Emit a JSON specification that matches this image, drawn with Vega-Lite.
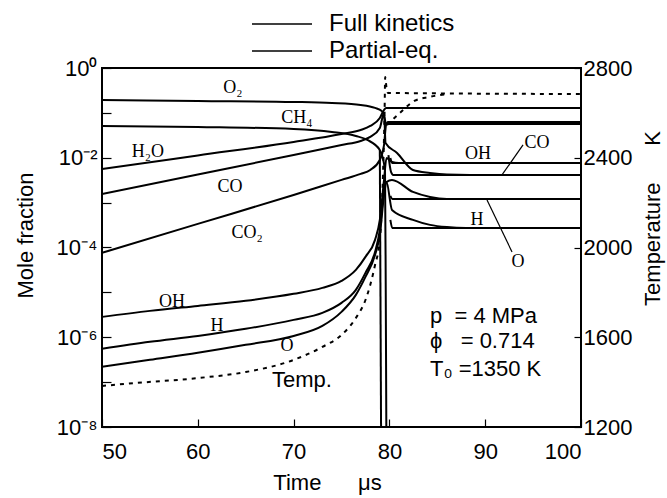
{
  "$schema": "https://vega.github.io/schema/vega-lite/v6.json",
  "width": 479,
  "height": 359,
  "autosize": "none",
  "padding": {"left": 102, "top": 68, "right": 86, "bottom": 71},
  "background": "white",
  "config": {
    "view": {"stroke": "black", "strokeWidth": 2},
    "axis": {"grid": false, "domain": false, "labelFont": "Liberation Sans", "labelFontSize": 22, "labelColor": "black", "titleFont": "Liberation Sans", "titleFontSize": 22, "titleFontWeight": "normal", "titleColor": "black", "tickColor": "black", "tickWidth": 1.2}
  },
  "datasets": {
    "species": [
      {"s": "O2", "m": "Full kinetics", "t": 50, "v": 0.194},
      {"s": "O2", "m": "Full kinetics", "t": 60, "v": 0.184},
      {"s": "O2", "m": "Full kinetics", "t": 70, "v": 0.175},
      {"s": "O2", "m": "Full kinetics", "t": 74, "v": 0.166},
      {"s": "O2", "m": "Full kinetics", "t": 77, "v": 0.15},
      {"s": "O2", "m": "Full kinetics", "t": 78.5, "v": 0.129},
      {"s": "O2", "m": "Full kinetics", "t": 79.2, "v": 0.11},
      {"s": "O2", "m": "Full kinetics", "t": 79.44, "v": 0.0898},
      {"s": "O2", "m": "Full kinetics", "t": 79.65, "v": 0.0566},
      {"s": "O2", "m": "Full kinetics", "t": 100, "v": 0.0566},
      {"s": "CH4", "m": "Full kinetics", "t": 50, "v": 0.0511},
      {"s": "CH4", "m": "Full kinetics", "t": 60, "v": 0.0485},
      {"s": "CH4", "m": "Full kinetics", "t": 70, "v": 0.0438},
      {"s": "CH4", "m": "Full kinetics", "t": 74, "v": 0.0376},
      {"s": "CH4", "m": "Full kinetics", "t": 76.5, "v": 0.0306},
      {"s": "CH4", "m": "Full kinetics", "t": 77.7, "v": 0.0249},
      {"s": "CH4", "m": "Full kinetics", "t": 79.0, "v": 0.0149},
      {"s": "CH4", "m": "Full kinetics", "t": 79.54, "v": 0.00535},
      {"s": "CH4", "m": "Full kinetics", "t": 79.62, "v": 0.00001},
      {"s": "CH4", "m": "Full kinetics", "t": 79.7, "v": 1e-9},
      {"s": "CH4pe", "m": "Partial-eq.", "t": 79.0, "v": 0.0149},
      {"s": "CH4pe", "m": "Partial-eq.", "t": 79.15, "v": 1e-9},
      {"s": "H2O", "m": "Full kinetics", "t": 50, "v": 0.00563},
      {"s": "H2O", "m": "Full kinetics", "t": 60, "v": 0.01125},
      {"s": "H2O", "m": "Full kinetics", "t": 70, "v": 0.0225},
      {"s": "H2O", "m": "Full kinetics", "t": 75, "v": 0.0339},
      {"s": "H2O", "m": "Full kinetics", "t": 77, "v": 0.0416},
      {"s": "H2O", "m": "Full kinetics", "t": 78, "v": 0.0511},
      {"s": "H2O", "m": "Full kinetics", "t": 79, "v": 0.0769},
      {"s": "H2O", "m": "Full kinetics", "t": 79.44, "v": 0.116},
      {"s": "H2O", "m": "Full kinetics", "t": 79.65, "v": 0.129},
      {"s": "H2O", "m": "Full kinetics", "t": 100, "v": 0.129},
      {"s": "CO", "m": "Full kinetics", "t": 50, "v": 0.00156},
      {"s": "CO", "m": "Full kinetics", "t": 60, "v": 0.00423},
      {"s": "CO", "m": "Full kinetics", "t": 70, "v": 0.0115},
      {"s": "CO", "m": "Full kinetics", "t": 75, "v": 0.0193},
      {"s": "CO", "m": "Full kinetics", "t": 77, "v": 0.0237},
      {"s": "CO", "m": "Full kinetics", "t": 78, "v": 0.0291},
      {"s": "CO", "m": "Full kinetics", "t": 79, "v": 0.0461},
      {"s": "CO", "m": "Full kinetics", "t": 79.44, "v": 0.0995},
      {"s": "CO", "m": "Full kinetics", "t": 79.6, "v": 0.0214},
      {"s": "CO", "m": "Full kinetics", "t": 80.8, "v": 0.0128},
      {"s": "CO", "m": "Full kinetics", "t": 82.46, "v": 0.00535},
      {"s": "CO", "m": "Full kinetics", "t": 84.24, "v": 0.00459},
      {"s": "CO", "m": "Full kinetics", "t": 86, "v": 0.00423},
      {"s": "CO", "m": "Full kinetics", "t": 88.4, "v": 0.00414},
      {"s": "CO", "m": "Full kinetics", "t": 100, "v": 0.00414},
      {"s": "COpe", "m": "Partial-eq.", "t": 79.9, "v": 0.0115},
      {"s": "COpe", "m": "Partial-eq.", "t": 80.17, "v": 0.00483},
      {"s": "COpe", "m": "Partial-eq.", "t": 80.4, "v": 0.00414},
      {"s": "COpe", "m": "Partial-eq.", "t": 100, "v": 0.00414},
      {"s": "CO2", "m": "Full kinetics", "t": 50, "v": 0.0000758},
      {"s": "CO2", "m": "Full kinetics", "t": 60, "v": 0.000336},
      {"s": "CO2", "m": "Full kinetics", "t": 70, "v": 0.00148},
      {"s": "CO2", "m": "Full kinetics", "t": 75, "v": 0.00321},
      {"s": "CO2", "m": "Full kinetics", "t": 77, "v": 0.00436},
      {"s": "CO2", "m": "Full kinetics", "t": 78, "v": 0.00535},
      {"s": "CO2", "m": "Full kinetics", "t": 79, "v": 0.00893},
      {"s": "CO2", "m": "Full kinetics", "t": 79.44, "v": 0.0193},
      {"s": "CO2", "m": "Full kinetics", "t": 79.65, "v": 0.0538},
      {"s": "CO2", "m": "Full kinetics", "t": 79.85, "v": 0.0627},
      {"s": "CO2", "m": "Full kinetics", "t": 100, "v": 0.0627},
      {"s": "OH", "m": "Full kinetics", "t": 50, "v": 0.00000284},
      {"s": "OH", "m": "Full kinetics", "t": 55, "v": 0.00000387},
      {"s": "OH", "m": "Full kinetics", "t": 60, "v": 0.000005},
      {"s": "OH", "m": "Full kinetics", "t": 65, "v": 0.00000647},
      {"s": "OH", "m": "Full kinetics", "t": 70, "v": 0.00000927},
      {"s": "OH", "m": "Full kinetics", "t": 73, "v": 0.0000126},
      {"s": "OH", "m": "Full kinetics", "t": 75, "v": 0.000018},
      {"s": "OH", "m": "Full kinetics", "t": 76.5, "v": 0.0000317},
      {"s": "OH", "m": "Full kinetics", "t": 77.5, "v": 0.0000618},
      {"s": "OH", "m": "Full kinetics", "t": 78.5, "v": 0.000148},
      {"s": "OH", "m": "Full kinetics", "t": 79, "v": 0.000412},
      {"s": "OH", "m": "Full kinetics", "t": 79.44, "v": 0.00321},
      {"s": "OH", "m": "Full kinetics", "t": 79.7, "v": 0.0099},
      {"s": "OH", "m": "Full kinetics", "t": 80.27, "v": 0.00806},
      {"s": "OH", "m": "Full kinetics", "t": 81, "v": 0.00766},
      {"s": "OH", "m": "Full kinetics", "t": 100, "v": 0.00766},
      {"s": "OHpe", "m": "Partial-eq.", "t": 80.1, "v": 0.0099},
      {"s": "OHpe", "m": "Partial-eq.", "t": 80.3, "v": 0.00766},
      {"s": "OHpe", "m": "Partial-eq.", "t": 100, "v": 0.00766},
      {"s": "H", "m": "Full kinetics", "t": 50, "v": 0.000000552},
      {"s": "H", "m": "Full kinetics", "t": 55, "v": 0.00000079},
      {"s": "H", "m": "Full kinetics", "t": 60, "v": 0.00000107},
      {"s": "H", "m": "Full kinetics", "t": 65, "v": 0.00000154},
      {"s": "H", "m": "Full kinetics", "t": 70, "v": 0.00000244},
      {"s": "H", "m": "Full kinetics", "t": 73, "v": 0.00000349},
      {"s": "H", "m": "Full kinetics", "t": 75, "v": 0.00000584},
      {"s": "H", "m": "Full kinetics", "t": 76.5, "v": 0.0000114},
      {"s": "H", "m": "Full kinetics", "t": 77.5, "v": 0.0000272},
      {"s": "H", "m": "Full kinetics", "t": 78.5, "v": 0.0000798},
      {"s": "H", "m": "Full kinetics", "t": 79, "v": 0.000247},
      {"s": "H", "m": "Full kinetics", "t": 79.44, "v": 0.00192},
      {"s": "H", "m": "Full kinetics", "t": 79.7, "v": 0.00289},
      {"s": "H", "m": "Full kinetics", "t": 80.27, "v": 0.000687},
      {"s": "H", "m": "Full kinetics", "t": 82.46, "v": 0.000412},
      {"s": "H", "m": "Full kinetics", "t": 84.24, "v": 0.000319},
      {"s": "H", "m": "Full kinetics", "t": 86, "v": 0.000285},
      {"s": "H", "m": "Full kinetics", "t": 88, "v": 0.000273},
      {"s": "H", "m": "Full kinetics", "t": 100, "v": 0.000273},
      {"s": "Hpe", "m": "Partial-eq.", "t": 80.1, "v": 0.000412},
      {"s": "Hpe", "m": "Partial-eq.", "t": 80.3, "v": 0.000273},
      {"s": "Hpe", "m": "Partial-eq.", "t": 100, "v": 0.000273},
      {"s": "O", "m": "Full kinetics", "t": 50, "v": 0.000000219},
      {"s": "O", "m": "Full kinetics", "t": 55, "v": 0.000000314},
      {"s": "O", "m": "Full kinetics", "t": 60, "v": 0.00000045},
      {"s": "O", "m": "Full kinetics", "t": 65, "v": 0.000000677},
      {"s": "O", "m": "Full kinetics", "t": 70, "v": 0.00000107},
      {"s": "O", "m": "Full kinetics", "t": 73, "v": 0.00000179},
      {"s": "O", "m": "Full kinetics", "t": 75, "v": 0.00000368},
      {"s": "O", "m": "Full kinetics", "t": 76.5, "v": 0.0000088},
      {"s": "O", "m": "Full kinetics", "t": 77.5, "v": 0.0000221},
      {"s": "O", "m": "Full kinetics", "t": 78.5, "v": 0.0000684},
      {"s": "O", "m": "Full kinetics", "t": 79, "v": 0.000191},
      {"s": "O", "m": "Full kinetics", "t": 79.44, "v": 0.00148},
      {"s": "O", "m": "Full kinetics", "t": 79.7, "v": 0.00289},
      {"s": "O", "m": "Full kinetics", "t": 80.27, "v": 0.00321},
      {"s": "O", "m": "Full kinetics", "t": 82.46, "v": 0.00173},
      {"s": "O", "m": "Full kinetics", "t": 84.24, "v": 0.00134},
      {"s": "O", "m": "Full kinetics", "t": 86, "v": 0.00121},
      {"s": "O", "m": "Full kinetics", "t": 100, "v": 0.00121},
      {"s": "Ope", "m": "Partial-eq.", "t": 80.1, "v": 0.00141},
      {"s": "Ope", "m": "Partial-eq.", "t": 80.3, "v": 0.00121},
      {"s": "Ope", "m": "Partial-eq.", "t": 100, "v": 0.00121}
    ],
    "temp": [
      {"s": "T", "t": 50, "T": 1383},
      {"s": "T", "t": 53.5, "T": 1396},
      {"s": "T", "t": 60, "T": 1418},
      {"s": "T", "t": 65, "T": 1445},
      {"s": "T", "t": 70, "T": 1499},
      {"s": "T", "t": 73, "T": 1557},
      {"s": "T", "t": 75, "T": 1610},
      {"s": "T", "t": 76.5, "T": 1686},
      {"s": "T", "t": 77.5, "T": 1766},
      {"s": "T", "t": 78, "T": 1833},
      {"s": "T", "t": 78.5, "T": 1922},
      {"s": "T", "t": 79, "T": 2033},
      {"s": "T", "t": 79.33, "T": 2323},
      {"s": "T", "t": 79.5, "T": 2613},
      {"s": "T", "t": 79.56, "T": 2760},
      {"s": "T", "t": 79.7, "T": 2711},
      {"s": "T", "t": 79.85, "T": 2689},
      {"s": "T", "t": 100, "T": 2684},
      {"s": "Tpe", "t": 79.75, "T": 2546},
      {"s": "Tpe", "t": 81.1, "T": 2600},
      {"s": "Tpe", "t": 82.6, "T": 2653},
      {"s": "Tpe", "t": 84.2, "T": 2671},
      {"s": "Tpe", "t": 86, "T": 2684}
    ],
    "labels": [
      {"label": "O₂", "t": 63.67, "v": 0.359},
      {"label": "CH₄", "t": 70.35, "v": 0.0769},
      {"label": "H₂O", "t": 54.8, "v": 0.01346},
      {"label": "CO", "t": 63.36, "v": 0.00224},
      {"label": "CO₂", "t": 65.14, "v": 0.000211},
      {"label": "OH", "t": 57.31, "v": 0.00000614},
      {"label": "H", "t": 62.0, "v": 0.00000179},
      {"label": "O", "t": 69.31, "v": 0.000000643},
      {"label": "OH", "t": 89.25, "v": 0.01216},
      {"label": "CO", "t": 95.41, "v": 0.0214},
      {"label": "H", "t": 89.14, "v": 0.000412},
      {"label": "O", "t": 93.42, "v": 0.0000478}
    ],
    "leaders": [
      {"t": 93.95, "v": 0.0193, "t2": 91.75, "v2": 0.00414},
      {"t": 90.19, "v": 0.00115, "t2": 92.8, "v2": 0.0000798}
    ],
    "tlabels": [
      {"label": "p\u00a0\u00a0= 4 MPa", "t": 84.24, "T": 1695},
      {"label": "ϕ\u00a0\u00a0\u00a0= 0.714", "t": 84.24, "T": 1583},
      {"label": "T₀ =1350 K", "t": 84.24, "T": 1458},
      {"label": "Temp.", "t": 67.75, "T": 1409}
    ]
  },
  "layer": [
    {
      "layer": [
        {
          "data": {"name": "species"},
          "mark": {"type": "line", "clip": true, "strokeWidth": 2, "interpolate": "monotone"},
          "encoding": {
            "x": {"field": "t", "type": "quantitative", "scale": {"domain": [50, 100], "nice": false},
              "axis": {"values": [50, 60, 70, 80, 90, 100], "tickSize": -8, "labelPadding": 22,
                "title": "Time\u00a0\u00a0\u00a0\u00a0\u00a0\u00a0μs", "titleX": 225, "titleY": 62, "titleBaseline": "alphabetic", "titleAlign": "center"}},
            "y": {"field": "v", "type": "quantitative", "scale": {"type": "log", "domain": [1e-8, 1], "nice": false},
              "axis": {"values": [1e-8, 1e-7, 1e-6, 1e-5, 1e-4, 1e-3, 1e-2, 1e-1, 1], "tickSize": -9, "labelPadding": 14,
                "labelExpr": "round(log(datum.value)/LN10) == 0 ? '10⁰' : round(log(datum.value)/LN10) == -2 ? '10⁻²' : round(log(datum.value)/LN10) == -4 ? '10⁻⁴' : round(log(datum.value)/LN10) == -6 ? '10⁻⁶' : round(log(datum.value)/LN10) == -8 ? '10⁻⁸' : ''",
                "title": "Mole fraction", "titleX": -77, "titleY": 167, "titleAngle": 270, "titleBaseline": "middle", "titleAlign": "center"}},
            "detail": {"field": "s"},
            "color": {"field": "m", "type": "nominal", "scale": {"domain": ["Full kinetics", "Partial-eq."], "range": ["black", "black"]},
              "legend": {"title": null, "orient": "none", "legendX": 168, "legendY": -56, "direction": "vertical",
                "symbolType": "M-3,0H3", "symbolSize": 400, "symbolStrokeWidth": 1.5, "symbolStrokeColor": "black", "symbolFillColor": "transparent",
                "labelFontSize": 24, "labelFont": "Liberation Sans", "labelColor": "black", "labelOffset": 35, "rowPadding": 3, "padding": 0}}
          }
        },
        {
          "data": {"name": "leaders"},
          "mark": {"type": "rule", "color": "black", "strokeWidth": 1.2},
          "encoding": {
            "x": {"field": "t", "type": "quantitative", "scale": {"domain": [50, 100], "nice": false}},
            "y": {"field": "v", "type": "quantitative", "scale": {"type": "log", "domain": [1e-8, 1], "nice": false}},
            "x2": {"field": "t2"},
            "y2": {"field": "v2"}
          }
        },
        {
          "data": {"name": "labels"},
          "mark": {"type": "text", "font": "Liberation Serif", "fontSize": 18, "align": "center", "baseline": "middle", "color": "black"},
          "encoding": {
            "x": {"field": "t", "type": "quantitative", "scale": {"domain": [50, 100], "nice": false}},
            "y": {"field": "v", "type": "quantitative", "scale": {"type": "log", "domain": [1e-8, 1], "nice": false}},
            "text": {"field": "label"}
          }
        }
      ]
    },
    {
      "layer": [
        {
          "data": {"name": "temp"},
          "mark": {"type": "line", "clip": true, "strokeWidth": 2, "strokeDash": [4, 5], "color": "black", "interpolate": "monotone"},
          "encoding": {
            "x": {"field": "t", "type": "quantitative", "scale": {"domain": [50, 100], "nice": false}},
            "y": {"field": "T", "type": "quantitative", "scale": {"domain": [1200, 2800], "nice": false},
              "axis": {"orient": "right", "values": [1200, 1600, 2000, 2400, 2800], "format": "d", "tickSize": -7, "labelPadding": 9,
                "title": "Temperature\u00a0\u00a0\u00a0\u00a0\u00a0\u00a0K", "titleX": 71, "titleY": 150, "titleAngle": 270, "titleBaseline": "middle", "titleAlign": "center"}},
            "detail": {"field": "s"}
          }
        },
        {
          "data": {"name": "tlabels"},
          "mark": {"type": "text", "font": "Liberation Sans", "fontSize": 22, "align": "left", "baseline": "middle", "color": "black"},
          "encoding": {
            "x": {"field": "t", "type": "quantitative", "scale": {"domain": [50, 100], "nice": false}},
            "y": {"field": "T", "type": "quantitative", "scale": {"domain": [1200, 2800], "nice": false}},
            "text": {"field": "label"}
          }
        }
      ]
    }
  ],
  "resolve": {"scale": {"y": "independent"}}
}
